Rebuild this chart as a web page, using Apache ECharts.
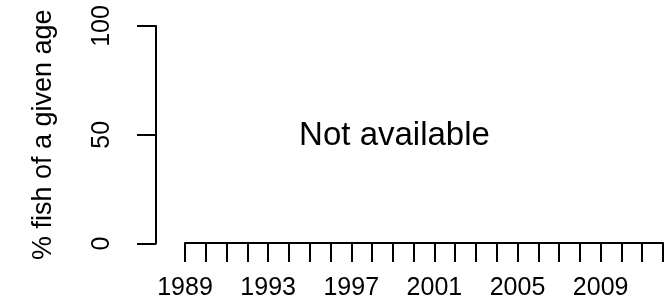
<!DOCTYPE html>
<html>
<head>
<meta charset="utf-8">
<script src="https://cdn.jsdelivr.net/npm/echarts@6/dist/echarts.min.js"></script>
<style>
	html, body { margin: 0; padding: 0; background: #fff; }
	#chart { width: 668px; height: 301px; }
</style>
</head>
<body>
<div id="chart"></div>
<script>
var years = []; // 1989 .. 2012, one tick per year
for (var y = 1989; y <= 2012; y++) years.push(String(y));
var percentValues = []; // no data for this stock
var yTicks = [0, 50, 100];
var yTitle = "% fish of a given age";
var emptyText = "Not available";

var font = "Liberation Sans, Arial, Helvetica, sans-serif";
var ink = "#000";

var chart = echarts.init(document.getElementById("chart"), null, { renderer: "canvas" });
chart.setOption({
	animation: false,
	backgroundColor: "#fff",
	grid: [
		{ left: 156, top: 26, width: 500, height: 217.5 }, // y axis only
		{ left: 185, top: 26, width: 478, height: 217.5 }  // x axis
	],
	xAxis: [
		{ gridIndex: 0, type: "value", show: false },
		{
			gridIndex: 1,
			type: "category",
			data: years,
			boundaryGap: false,
			axisLine: { lineStyle: { color: ink, width: 2 } },
			axisTick: { interval: 0, length: 19, lineStyle: { color: ink, width: 2 } },
			axisLabel: { interval: 3, margin: 33, color: ink, fontSize: 25, fontFamily: font },
			splitLine: { show: false }
		}
	],
	yAxis: [
		{
			gridIndex: 0,
			type: "value",
			min: yTicks[0],
			max: yTicks[yTicks.length - 1],
			interval: yTicks[1] - yTicks[0],
			name: yTitle,
			nameLocation: "middle",
			nameRotate: 90,
			nameGap: 99,
			nameTextStyle: { color: ink, fontSize: 27, fontFamily: font },
			axisLine: { show: true, lineStyle: { color: ink, width: 2 } },
			axisTick: { show: true, length: 19, lineStyle: { color: ink, width: 2 } },
			axisLabel: { rotate: 90, margin: 41, color: ink, fontSize: 25, fontFamily: font },
			splitLine: { show: false }
		},
		{ gridIndex: 1, type: "value", min: 0, max: 100, show: false }
	],
	series: [{
		type: "line",
		xAxisIndex: 1,
		yAxisIndex: 1,
		data: percentValues
	}],
	graphic: [{
		type: "text",
		x: 394.5,
		y: 136,
		style: {
			text: emptyText,
			fill: ink,
			font: "33px " + font,
			textAlign: "center",
			textVerticalAlign: "middle"
		}
	}]
});
</script>
</body>
</html>
